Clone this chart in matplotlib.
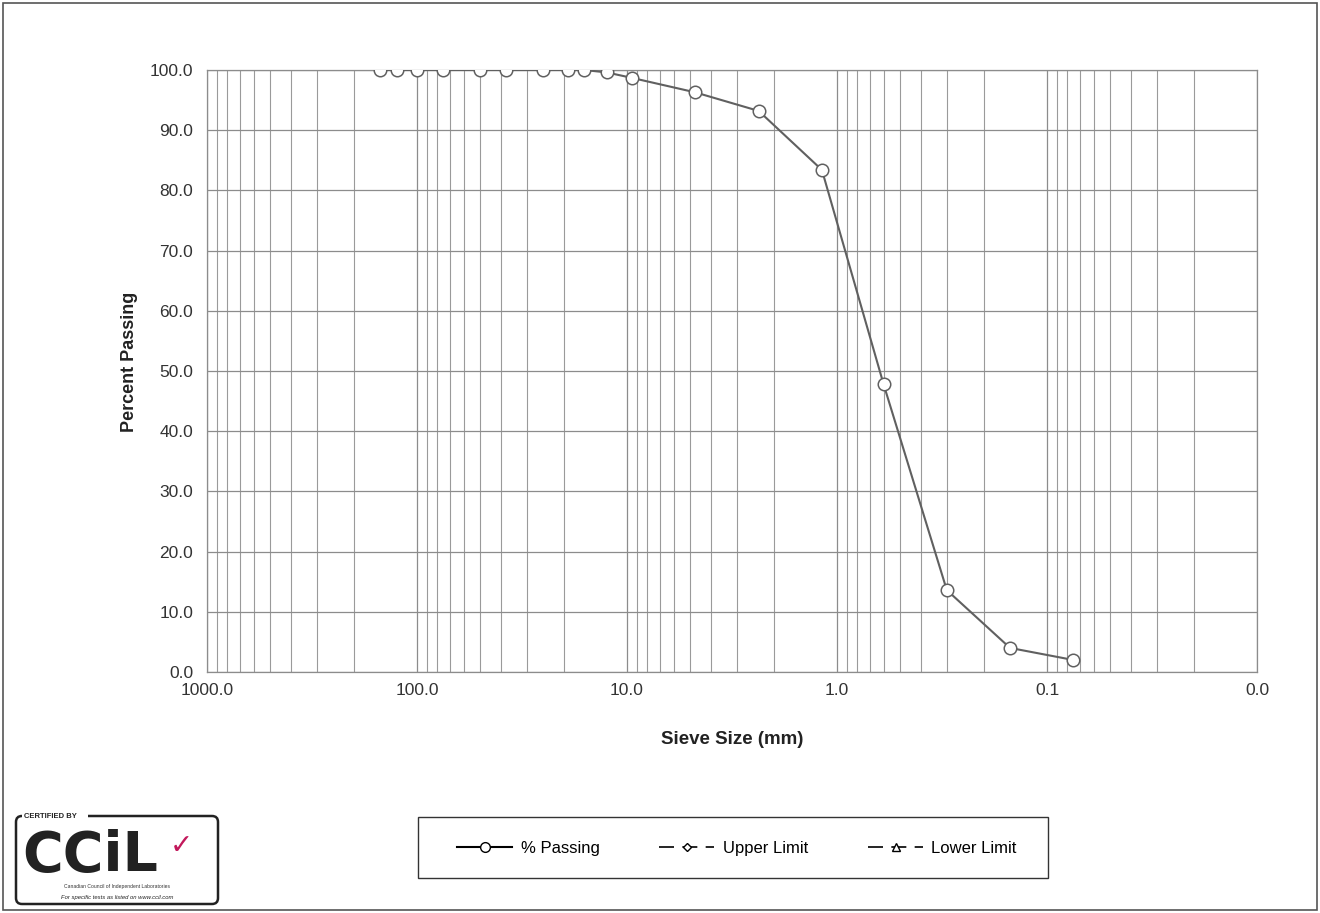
#!/usr/bin/env python3
"""Sieve analysis gradation curve (percent passing vs sieve size)."""

import matplotlib
matplotlib.use('Agg')
import matplotlib.pyplot as plt
from matplotlib.patches import Rectangle, FancyBboxPatch
from matplotlib.lines import Line2D
from matplotlib.ticker import FixedLocator, FuncFormatter, NullFormatter, LogLocator

plt.rcParams['font.family'] = ['Liberation Sans', 'DejaVu Sans']

# ==========================================
# DATA
# ==========================================
sieve_mm = [150, 125, 100, 75, 50, 37.5, 25, 19, 16, 12.5, 9.5,
            4.75, 2.36, 1.18, 0.600, 0.300, 0.150, 0.075]
pct_passing = [100.0, 100.0, 100.0, 100.0, 100.0, 100.0, 100.0, 100.0, 100.0, 99.6, 98.7,
               96.3, 93.2, 83.4, 47.8, 13.6, 4.0, 2.0]
upper_limit = []
lower_limit = []
x_ticks = [1000, 100, 10, 1, 0.1, 0.01]
y_ticks = list(range(0, 101, 10))

W, H = 1320, 913
fig = plt.figure(figsize=(W / 100, H / 100), dpi=100)
fig.patch.set_facecolor('white')

# outer page frame
fig.patches.append(Rectangle((3 / W, 3 / H), 1 - 6 / W, 1 - 6 / H, transform=fig.transFigure,
                             fill=False, edgecolor='#555555', linewidth=1.2))

# ==========================================
# MAIN CHART
# ==========================================
ax = fig.add_axes([207 / W, 1 - 672 / H, 1050 / W, 602 / H])
ax.set_xscale('log')
ax.set_xlim(1000, 0.01)
ax.set_ylim(0, 100)

ax.xaxis.set_major_locator(FixedLocator(x_ticks))
ax.xaxis.set_minor_locator(LogLocator(base=10, subs=range(2, 10), numticks=20))
ax.xaxis.set_major_formatter(FuncFormatter(lambda v, p: f'{v:.1f}'))
ax.xaxis.set_minor_formatter(NullFormatter())
ax.yaxis.set_major_locator(FixedLocator(y_ticks))
ax.yaxis.set_major_formatter(FuncFormatter(lambda v, p: f'{v:.1f}'))

ax.grid(which='major', axis='both', color='#8c8c8c', linewidth=0.9)
ax.grid(which='minor', axis='x', color='#9a9a9a', linewidth=0.8)
ax.set_axisbelow(True)

for s in ax.spines.values():
    s.set_color('#8c8c8c')
    s.set_linewidth(0.9)

ax.tick_params(which='both', length=0, labelsize=12.5, colors='#333333', pad=8)
ax.tick_params(axis='y', pad=10)

ax.plot(sieve_mm, pct_passing, color='#606060', linewidth=1.5, marker='o', markersize=9,
        markerfacecolor='white', markeredgecolor='#606060', markeredgewidth=1.1, zorder=3)
ax.plot(upper_limit, upper_limit, color='black', linestyle='--', marker='D')
ax.plot(lower_limit, lower_limit, color='black', linestyle='--', marker='^')

ax.set_xlabel('Sieve Size (mm)', fontsize=13.5, fontweight='bold', labelpad=24, color='#222222')
ax.set_ylabel('Percent Passing', fontsize=13, fontweight='bold', color='#222222')
ax.yaxis.set_label_coords(-0.066, 0.515)

# ==========================================
# LEGEND
# ==========================================
handles = [
    Line2D([], [], color='black', linewidth=1.5, marker='o', markersize=7,
           markerfacecolor='white', markeredgecolor='black'),
    Line2D([], [], color='black', linewidth=1.2, linestyle=(0, (9, 5)), marker='D', markersize=4.5,
           markerfacecolor='white', markeredgecolor='black'),
    Line2D([], [], color='black', linewidth=1.2, linestyle=(0, (9, 5)), marker='^', markersize=5.5,
           markerfacecolor='white', markeredgecolor='black'),
]
labels = ['% Passing', 'Upper Limit', 'Lower Limit']
fig.legend(handles, labels, loc='center', bbox_to_anchor=(737 / W, 1 - 848 / H), ncol=3,
           fontsize=12, frameon=False, handlelength=3.3, columnspacing=3.6,
           handletextpad=0.5, borderaxespad=0)
fig.patches.append(Rectangle((418 / W, 1 - 878 / H), 630 / W, 61 / H, transform=fig.transFigure,
                             fill=False, edgecolor='#333333', linewidth=1.0))

# ==========================================
# CERTIFICATION LOGO
# ==========================================
lg = fig.add_axes([12 / W, 1 - 908 / H, 212 / W, 102 / H])
lg.set_xlim(0, 212)
lg.set_ylim(0, 102)
lg.axis('off')
lg.add_patch(FancyBboxPatch((4, 4), 202, 88, boxstyle='round,pad=0,rounding_size=6',
                            fill=False, edgecolor='#222222', linewidth=1.8))
lg.add_patch(Rectangle((10, 86), 66, 12, facecolor='white', edgecolor='none'))
lg.text(12, 92, 'CERTIFIED BY', fontsize=5.5, fontweight='bold', color='#222222', va='center')
lg.text(10, 52, 'CCiL', fontsize=40, fontweight='bold', color='#222222', va='center',
        family='DejaVu Sans')
lg.text(158, 62, '✓', fontsize=20, fontweight='bold', color='#c2185b', va='center',
        family='DejaVu Sans')
lg.text(105, 22, 'Canadian Council of Independent Laboratories', fontsize=3.6,
        color='#333333', ha='center', va='center')
lg.text(105, 11, 'For specific tests as listed on www.ccil.com', fontsize=4.2,
        color='#222222', ha='center', va='center', style='italic')

plt.savefig('out.png', dpi=100, facecolor='white')
plt.close(fig)
